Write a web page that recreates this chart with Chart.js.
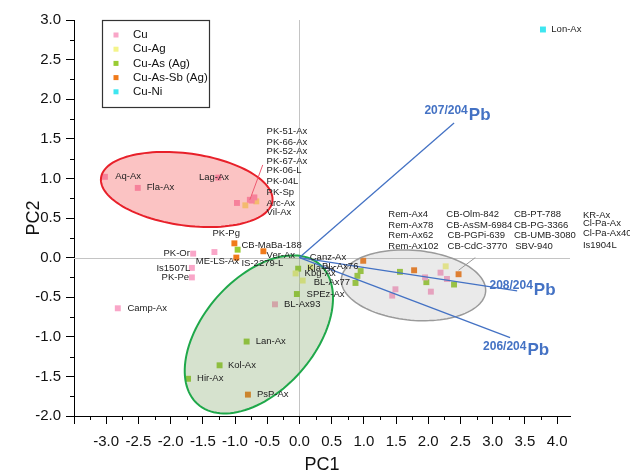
<!DOCTYPE html>
<html>
<head>
<meta charset="utf-8">
<script src="https://cdn.jsdelivr.net/npm/chart.js@4.4.1/dist/chart.umd.min.js"></script>
<style>
  html, body { margin: 0; padding: 0; background: #fff; }
  #wrap { width: 630px; height: 476px; }
</style>
</head>
<body>
<div id="wrap"><canvas id="pcaChart" width="630" height="476"></canvas></div>
<script>
// * Data (PC1, PC2 scores)
const groups = ["Cu", "Cu-Ag", "Cu-As (Ag)", "Cu-As-Sb (Ag)", "Cu-Ni"];
const groupColors = ["#f9a6c8", "#f4f48a", "#99cc33", "#f07a1a", "#3ee6f0"];

const cuScores = [
  [-3.02, 1.02], [-2.51, 0.88], [-1.26, 1.01], [-0.97, 0.69], [-0.77, 0.73],
  [-0.70, 0.76], [-0.74, 0.72], [-1.65, 0.05], [-1.32, 0.07], [-1.67, -0.13],
  [-1.67, -0.25], [-2.82, -0.64], [-0.38, -0.59], [1.95, -0.25], [2.19, -0.19],
  [2.29, -0.27], [2.04, -0.43], [1.49, -0.40], [1.44, -0.48]
];
const cuAgScores = [
  [-0.84, 0.66], [-0.67, 0.71], [-0.06, -0.20], [0.05, -0.29], [2.27, -0.11], [0.17, -0.12]
];
const cuAsScores = [
  [-0.96, 0.10], [-0.02, -0.14], [-0.04, -0.46], [0.95, -0.17], [0.90, -0.23],
  [0.87, -0.32], [1.56, -0.18], [1.97, -0.31], [2.40, -0.34], [-0.82, -1.06],
  [-1.24, -1.36], [-1.73, -1.53]
];
const cuAsSbScores = [
  [-1.01, 0.18], [-0.56, 0.08], [-0.98, 0.0], [0.99, -0.04], [1.78, -0.16],
  [2.47, -0.21], [-0.80, -1.73]
];
const cuNiScores = [[3.78, 2.88]];

// loading vectors (end points)
const vectorNames = ["207/204", "208/204", "206/204"];
const vectorEnds = [[2.40, 1.70], [3.38, -0.42], [3.27, -1.01]];
const vectorLabelAt = [[1.94, 1.85], [2.95, -0.35], [2.85, -1.12]];

// group ellipses: centre, two half-axis vectors
const ellipseCentres = [[-1.75, 0.86], [-0.63, -0.97], [1.77, -0.35]];
const ellipseAxisA = [[1.33, -0.15], [0.95, 0.88], [1.12, -0.08]];
const ellipseAxisB = [[0.08, 0.45], [0.65, -0.47], [0.045, 0.44]];

// sample names and where they sit
const sampleLabels = [
  ["Aq-Ax", -2.86, 1.03], ["Fla-Ax", -2.37, 0.89], ["Lag-Ax", -1.56, 1.01],
  ["PK-51-Ax", -0.51, 1.60], ["PK-66-Ax", -0.51, 1.45], ["PK-52-Ax", -0.51, 1.34],
  ["PK-67-Ax", -0.51, 1.22], ["PK-06-L", -0.51, 1.10], ["PK-04L", -0.51, 0.96],
  ["PK-Sp", -0.51, 0.82], ["Arc-Ax", -0.51, 0.69], ["Vil-Ax", -0.51, 0.57],
  ["PK-Pg", -1.35, 0.30], ["CB-MaBa-188", -0.90, 0.16], ["Ver-Ax", -0.51, 0.03],
  ["PK-Or", -2.11, 0.05], ["ME-LS-Ax", -1.61, -0.05], ["IS-2279-L", -0.90, -0.07],
  ["Is1507L", -2.22, -0.14], ["PK-Pe", -2.14, -0.25], ["Camp-Ax", -2.67, -0.64],
  ["Canz-Ax", 0.16, 0.0], ["Kla-Ax", 0.12, -0.13], ["BL-Ax76", 0.35, -0.11],
  ["Kbg-Ax", 0.08, -0.20], ["BL-Ax77", 0.22, -0.31], ["SPEz-Ax", 0.11, -0.46],
  ["BL-Ax93", -0.24, -0.59], ["Lan-Ax", -0.68, -1.06], ["Kol-Ax", -1.11, -1.36],
  ["Hir-Ax", -1.59, -1.53], ["PsP-Ax", -0.66, -1.73], ["Lon-Ax", 3.91, 2.88],
  ["Rem-Ax4", 1.38, 0.54], ["Rem-Ax78", 1.38, 0.41], ["Rem-Ax62", 1.38, 0.28], ["Rem-Ax102", 1.38, 0.14],
  ["CB-Olm-842", 2.28, 0.54], ["CB-AsSM-6984", 2.28, 0.41], ["CB-PGPi-639", 2.30, 0.28], ["CB-CdC-3770", 2.30, 0.14],
  ["CB-PT-788", 3.33, 0.54], ["CB-PG-3366", 3.33, 0.41], ["CB-UMB-3080", 3.33, 0.28], ["SBV-940", 3.35, 0.14],
  ["KR-Ax", 4.40, 0.53], ["Cl-Pa-Ax", 4.40, 0.43], ["Cl-Pa-Ax40", 4.40, 0.30], ["Is1904L", 4.40, 0.16]
];
// leader lines [from, to]
const leaders = [[[-0.77, 0.73], [-0.57, 1.17]], [[2.47, -0.16], [2.73, 0.0]]];

// * Helpers
const FONT = "'Liberation Sans', Arial, sans-serif";
const BLUE = "#4472c4";

function toPoints(list) {
  return list.map((p) => ({ x: p[0], y: p[1] }));
}

function tracePath(ctx, xs, ys, centre, a, b) {
  ctx.beginPath();
  for (let i = 0; i <= 120; i++) {
    const t = (i / 120) * Math.PI * 2;
    const px = xs.getPixelForValue(centre[0] + a[0] * Math.cos(t) + b[0] * Math.sin(t));
    const py = ys.getPixelForValue(centre[1] + a[1] * Math.cos(t) + b[1] * Math.sin(t));
    if (i === 0) ctx.moveTo(px, py);
    else ctx.lineTo(px, py);
  }
  ctx.closePath();
}

const ellipseFills = ["rgba(240,40,40,0.28)", "rgba(118,158,92,0.30)", "rgba(150,150,150,0.20)"];
const ellipseStrokes = ["#e8202a", "#1fa84a", "#9a9a9a"];
const ellipseWidths = [2, 2, 1.5];

const overlay = {
  id: "overlay",
  beforeDatasetsDraw(chart) {
    const { ctx, chartArea: area, scales } = chart;
    const x0 = scales.x.getPixelForValue(0);
    const y0 = scales.y.getPixelForValue(0);
    ctx.save();
    ctx.strokeStyle = "#c4c4c4";
    ctx.lineWidth = 1;
    ctx.beginPath();
    ctx.moveTo(Math.round(x0) + 0.5, area.top);
    ctx.lineTo(Math.round(x0) + 0.5, area.bottom);
    ctx.moveTo(area.left, Math.round(y0) + 0.5);
    ctx.lineTo(area.right, Math.round(y0) + 0.5);
    ctx.stroke();
    ctx.restore();
  },
  afterDatasetsDraw(chart) {
    const { ctx, scales } = chart;
    const xs = scales.x;
    const ys = scales.y;
    ctx.save();

    // ellipses on top of the points, translucent
    ellipseCentres.forEach((c, i) => {
      tracePath(ctx, xs, ys, c, ellipseAxisA[i], ellipseAxisB[i]);
      ctx.fillStyle = ellipseFills[i];
      ctx.fill();
      ctx.strokeStyle = ellipseStrokes[i];
      ctx.lineWidth = ellipseWidths[i];
      ctx.stroke();
    });

    // leader lines
    ctx.lineWidth = 1;
    leaders.forEach((l, i) => {
      ctx.strokeStyle = i === 0 ? "#ee5a70" : "#9a9a9a";
      ctx.beginPath();
      ctx.moveTo(xs.getPixelForValue(l[0][0]), ys.getPixelForValue(l[0][1]));
      ctx.lineTo(xs.getPixelForValue(l[1][0]), ys.getPixelForValue(l[1][1]));
      ctx.stroke();
    });

    // loading vectors
    ctx.strokeStyle = BLUE;
    ctx.lineWidth = 1.3;
    vectorEnds.forEach((e) => {
      ctx.beginPath();
      ctx.moveTo(xs.getPixelForValue(0), ys.getPixelForValue(0));
      ctx.lineTo(xs.getPixelForValue(e[0]), ys.getPixelForValue(e[1]));
      ctx.stroke();
    });

    // vector labels
    ctx.fillStyle = BLUE;
    ctx.textBaseline = "middle";
    ctx.textAlign = "left";
    vectorNames.forEach((name, i) => {
      const px = xs.getPixelForValue(vectorLabelAt[i][0]);
      const py = ys.getPixelForValue(vectorLabelAt[i][1]);
      ctx.font = "bold 12px " + FONT;
      ctx.fillText(name, px, py);
      const w = ctx.measureText(name).width;
      ctx.font = "bold 17px " + FONT;
      ctx.fillText("Pb", px + w + 1, py + 4.5);
    });

    // sample labels
    ctx.fillStyle = "#222";
    ctx.font = "9.5px " + FONT;
    sampleLabels.forEach((s) => {
      ctx.fillText(s[0], xs.getPixelForValue(s[1]), ys.getPixelForValue(s[2]));
    });
    ctx.restore();
  },
  afterDraw(chart) {
    const { ctx, chartArea: area, scales } = chart;
    ctx.save();
    ctx.strokeStyle = "#000";
    ctx.lineWidth = 1;
    // minor ticks
    ctx.beginPath();
    for (let v = -3.25; v < 4.2; v += 0.5) {
      const px = Math.round(scales.x.getPixelForValue(v)) + 0.5;
      ctx.moveTo(px, area.bottom);
      ctx.lineTo(px, area.bottom + 4);
    }
    for (let v = -1.75; v < 3; v += 0.5) {
      const py = Math.round(scales.y.getPixelForValue(v)) + 0.5;
      ctx.moveTo(area.left, py);
      ctx.lineTo(area.left - 4, py);
    }
    ctx.stroke();

    // legend box
    ctx.strokeStyle = "#333";
    ctx.lineWidth = 1.2;
    ctx.fillStyle = "#fff";
    ctx.fillRect(102.5, 20.5, 107, 87);
    ctx.strokeRect(102.5, 20.5, 107, 87);
    ctx.font = "11.5px " + FONT;
    ctx.textBaseline = "middle";
    groups.forEach((g, i) => {
      const y = 35 + i * 14.2;
      ctx.fillStyle = groupColors[i];
      ctx.fillRect(113.5, y - 2.5, 5, 5);
      ctx.fillStyle = "#111";
      ctx.fillText(g, 133, y);
    });
    ctx.restore();
  }
};

// * Chart
const scoreSets = [cuScores, cuAgScores, cuAsScores, cuAsSbScores, cuNiScores];

const canvas = document.getElementById("pcaChart").getContext("2d");

const pcaChart = new Chart(canvas, {
  type: "scatter",
  data: {
    datasets: scoreSets.map((set, i) => ({
      label: groups[i],
      data: toPoints(set),
      backgroundColor: groupColors[i],
      borderWidth: 0,
      pointStyle: "rect",
      pointRadius: 4.2,
      pointHoverRadius: 4.2
    }))
  },
  options: {
    responsive: false,
    animation: false,
    events: [],
    layout: { padding: { top: 20, right: 60, left: 0, bottom: 0 } },
    plugins: { legend: { display: false }, tooltip: { enabled: false } },
    scales: {
      x: {
        type: "linear",
        min: -3.5,
        max: 4.2,
        afterFit: (scale) => { scale.height = 60; },
        border: { display: true, color: "#000", width: 1 },
        grid: { drawOnChartArea: false, drawTicks: true, tickLength: 8, color: "#000" },
        ticks: {
          stepSize: 0.5,
          includeBounds: false,
          autoSkip: false,
          maxRotation: 0,
          padding: 9,
          color: "#111",
          font: { family: FONT, size: 15 },
          callback: (v) => (Math.abs(v + 3.5) < 1e-6 ? "" : Number(v).toFixed(1))
        },
        title: { display: true, text: "PC1", color: "#111", font: { family: FONT, size: 18 }, padding: { top: 0, bottom: 0 } }
      },
      y: {
        type: "linear",
        min: -2,
        max: 3,
        afterFit: (scale) => { scale.width = 74; },
        border: { display: true, color: "#000", width: 1 },
        grid: { drawOnChartArea: false, drawTicks: true, tickLength: 8, color: "#000" },
        ticks: {
          stepSize: 0.5,
          includeBounds: false,
          autoSkip: false,
          padding: 5,
          color: "#111",
          font: { family: FONT, size: 15 },
          callback: (v) => Number(v).toFixed(1)
        },
        title: { display: true, text: "PC2", color: "#111", font: { family: FONT, size: 18 }, padding: { top: 23, bottom: 0 } }
      }
    }
  },
  plugins: [overlay]
});
</script>
</body>
</html>
